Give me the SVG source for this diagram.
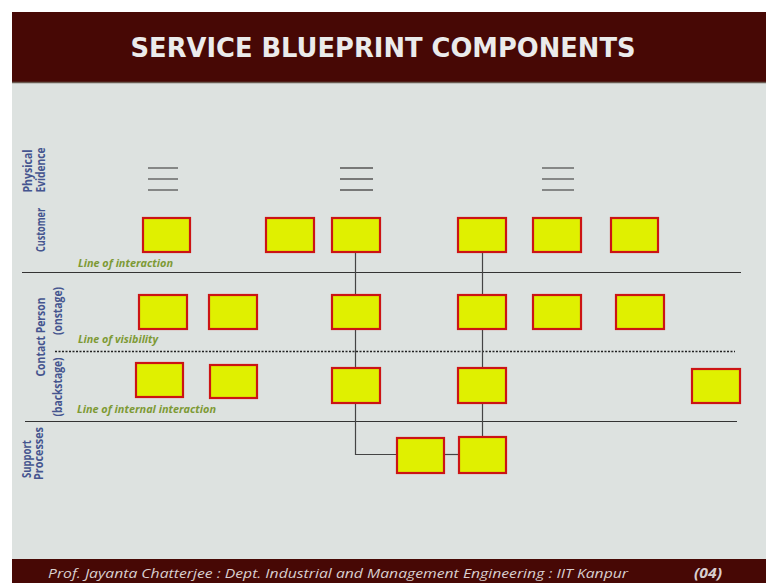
<svg xmlns="http://www.w3.org/2000/svg" width="766" height="583" viewBox="0 0 766 583">
  <style>
    .band { fill: #470805; }
    .title { font-family: "DejaVu Sans", "Liberation Sans", sans-serif; font-weight: bold; font-size: 26px; fill: #ebebeb; }
    .lane { font-family: "Open Sans", "Liberation Sans", sans-serif; font-weight: bold; font-size: 11.5px; fill: #45558f; text-anchor: middle; }
    .lineLbl { font-family: "Open Sans", "Liberation Sans", sans-serif; font-weight: bold; font-style: italic; font-size: 10px; fill: #7d9a35; }
    .box { fill: #e0f000; stroke: #cc1414; stroke-width: 2.2; }
    .rule { stroke: #333; stroke-width: 1.1; fill: none; }
    .dots { stroke: #222; stroke-width: 1.3; stroke-dasharray: 2 1.5; fill: none; }
    .ev { stroke: #555; stroke-width: 1.3; }
    .conn { stroke: #444; stroke-width: 1.2; fill: none; }
    .foot { font-family: "Open Sans", "Liberation Sans", sans-serif; font-style: italic; font-size: 13.5px; fill: #d9cfcf; }
  </style>

  <!-- page -->
  <rect x="0" y="0" width="766" height="583" fill="#ffffff"/>
  <rect x="12" y="12" width="754" height="571" fill="#dde2e0"/>

  <!-- header -->
  <g id="header">
    <rect class="band" x="12" y="12" width="754" height="70"/>
    <line x1="12" y1="82.5" x2="766" y2="82.5" stroke="#6a5a50" stroke-width="1.5"/>
    <text class="title" x="383" y="57" text-anchor="middle" textLength="505" lengthAdjust="spacingAndGlyphs">SERVICE BLUEPRINT COMPONENTS</text>
  </g>

  <!-- lane titles -->
  <g id="lane-labels">
    <text class="lane" transform="translate(32,171) rotate(-90)" textLength="43" lengthAdjust="spacingAndGlyphs">Physical</text>
    <text class="lane" transform="translate(45,170) rotate(-90)" textLength="45" lengthAdjust="spacingAndGlyphs">Evidence</text>
    <text class="lane" transform="translate(45,230) rotate(-90)" textLength="44" lengthAdjust="spacingAndGlyphs">Customer</text>
    <text class="lane" transform="translate(45,337) rotate(-90)" textLength="79" lengthAdjust="spacingAndGlyphs">Contact Person</text>
    <text class="lane" transform="translate(62,311) rotate(-90)" font-weight="normal" textLength="48" lengthAdjust="spacingAndGlyphs">(onstage)</text>
    <text class="lane" transform="translate(62,387) rotate(-90)" font-weight="normal" textLength="59" lengthAdjust="spacingAndGlyphs">(backstage)</text>
    <text class="lane" transform="translate(31,459) rotate(-90)" textLength="38" lengthAdjust="spacingAndGlyphs">Support</text>
    <text class="lane" transform="translate(43,453.5) rotate(-90)" textLength="53" lengthAdjust="spacingAndGlyphs">Processes</text>
  </g>

  <!-- separating lines -->
  <g id="lines">
    <line class="rule" x1="22" y1="272.5" x2="741" y2="272.5"/>
    <line class="dots" x1="55" y1="351.5" x2="735" y2="351.5"/>
    <line class="rule" x1="25" y1="421.5" x2="737" y2="421.5"/>
    <text class="lineLbl" x="78" y="267" textLength="95" lengthAdjust="spacingAndGlyphs">Line of interaction</text>
    <text class="lineLbl" x="78" y="343" textLength="80" lengthAdjust="spacingAndGlyphs">Line of visibility</text>
    <text class="lineLbl" x="77" y="413" textLength="139" lengthAdjust="spacingAndGlyphs">Line of internal interaction</text>
  </g>

  <!-- physical evidence marks -->
  <g id="evidence">
    <g id="ev1">
      <line class="ev" x1="148" y1="168" x2="178" y2="168"/>
      <line class="ev" x1="148" y1="179" x2="178" y2="179"/>
      <line class="ev" x1="148" y1="190" x2="178" y2="190"/>
    </g>
    <g id="ev2">
      <line class="ev" x1="340" y1="168" x2="373" y2="168"/>
      <line class="ev" x1="340" y1="179" x2="373" y2="179"/>
      <line class="ev" x1="340" y1="190" x2="373" y2="190"/>
    </g>
    <g id="ev3">
      <line class="ev" x1="542" y1="168" x2="574" y2="168"/>
      <line class="ev" x1="542" y1="179" x2="574" y2="179"/>
      <line class="ev" x1="542" y1="190" x2="574" y2="190"/>
    </g>
  </g>

  <!-- connectors -->
  <g id="connectors">
    <polyline class="conn" points="355.5,252 355.5,454.5 397,454.5"/>
    <line class="conn" x1="444" y1="454.5" x2="459" y2="454.5"/>
    <line class="conn" x1="482.5" y1="252" x2="482.5" y2="438"/>
  </g>

  <!-- customer actions -->
  <g id="c1"><rect class="box" x="143" y="218" width="47" height="34"/></g>
  <g id="c2"><rect class="box" x="266" y="218" width="48" height="34"/></g>
  <g id="c3"><rect class="box" x="332" y="218" width="48" height="34"/></g>
  <g id="c4"><rect class="box" x="458" y="218" width="48" height="34"/></g>
  <g id="c5"><rect class="box" x="533" y="218" width="48" height="34"/></g>
  <g id="c6"><rect class="box" x="611" y="218" width="47" height="34"/></g>

  <!-- onstage contact actions -->
  <g id="o1"><rect class="box" x="139" y="295" width="48" height="34"/></g>
  <g id="o2"><rect class="box" x="209" y="295" width="48" height="34"/></g>
  <g id="o3"><rect class="box" x="332" y="295" width="48" height="34"/></g>
  <g id="o4"><rect class="box" x="458" y="295" width="48" height="34"/></g>
  <g id="o5"><rect class="box" x="533" y="295" width="48" height="34"/></g>
  <g id="o6"><rect class="box" x="616" y="295" width="48" height="34"/></g>

  <!-- backstage contact actions -->
  <g id="b1"><rect class="box" x="136" y="363" width="47" height="34"/></g>
  <g id="b2"><rect class="box" x="210" y="365" width="47" height="33"/></g>
  <g id="b3"><rect class="box" x="332" y="368" width="48" height="35"/></g>
  <g id="b4"><rect class="box" x="458" y="368" width="48" height="35"/></g>
  <g id="b5"><rect class="box" x="692" y="369" width="48" height="34"/></g>

  <!-- support processes -->
  <g id="s1"><rect class="box" x="397" y="438" width="47" height="35"/></g>
  <g id="s2"><rect class="box" x="459" y="437" width="47" height="36"/></g>

  <!-- footer -->
  <g id="footer">
    <rect class="band" x="12" y="559" width="754" height="24"/>
    <text class="foot" x="48" y="578" textLength="580" lengthAdjust="spacingAndGlyphs">Prof. Jayanta Chatterjee : Dept. Industrial and Management Engineering : IIT Kanpur</text>
    <text class="foot" x="694" y="578" font-weight="bold" textLength="28" lengthAdjust="spacingAndGlyphs">(04)</text>
  </g>
</svg>
